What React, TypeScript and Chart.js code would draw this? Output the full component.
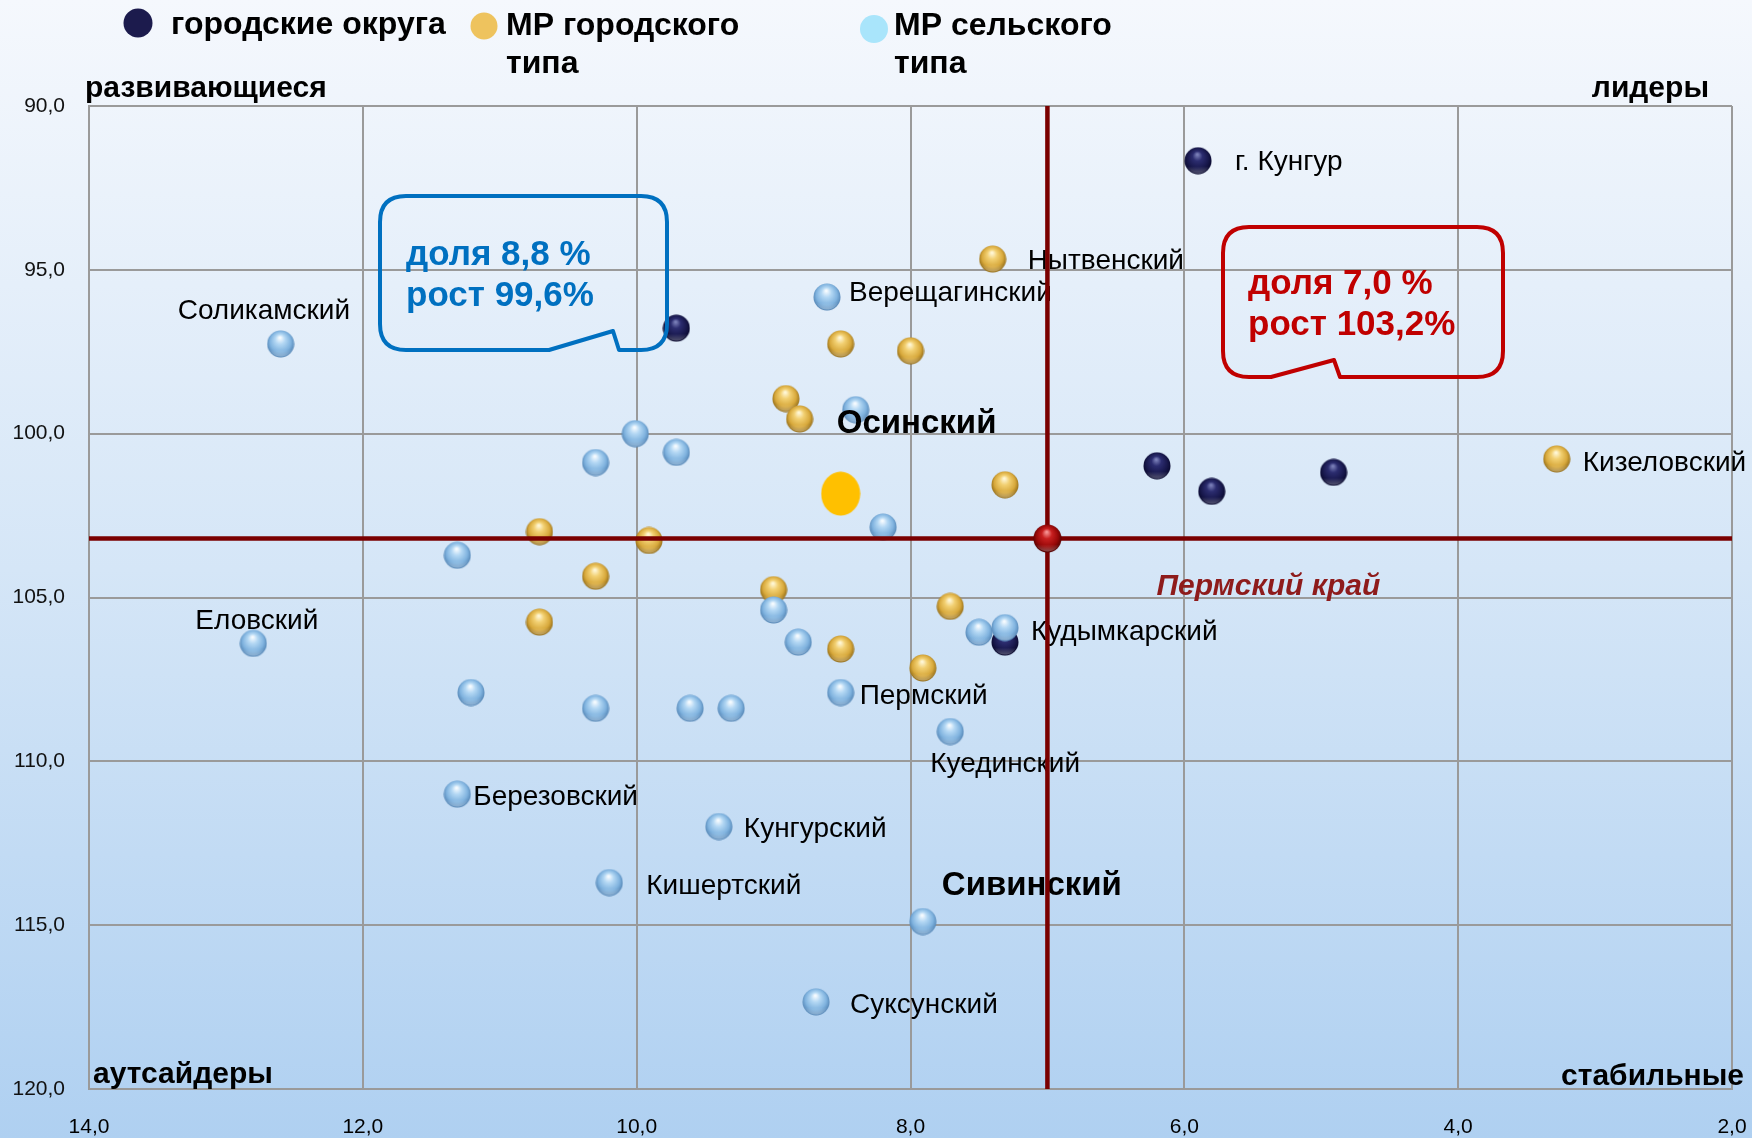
import React, { useEffect, useRef } from 'react';
import { Chart, registerables } from 'chart.js';

Chart.register(...registerables);

// ---------- DATA ----------
// городские округа
const urbanNames = ['г. Кунгур', '', '', '', '', ''];
const urbanShare = [5.9, 9.71, 6.2, 5.8, 4.91, 7.31];
const urbanGrowth = [91.67, 96.78, 100.98, 101.76, 101.18, 106.36];

// МР городского типа
const townNames = ['Нытвенский', '', '', '', '', '', 'Кизеловский', '', '', '', '', '', '', '', ''];
const townShare = [7.4, 8.51, 8.0, 8.91, 8.81, 7.31, 3.28, 10.71, 9.91, 10.3, 10.71, 9.0, 7.71, 8.51, 7.91];
const townGrowth = [94.67, 97.26, 97.47, 98.93, 99.55, 101.56, 100.77, 102.99, 103.26, 104.35, 105.75, 104.76, 105.27, 106.57, 107.15];

// МР сельского типа
const ruralNames = [
  'Верещагинский', 'Соликамский', 'Осинский', '', '', '', '', '', 'Еловский', '', '', '', 'Кудымкарский',
  '', '', '', '', 'Пермский', 'Куединский', 'Березовский', 'Кунгурский', 'Кишертский', 'Сивинский', 'Суксунский',
];
const ruralShare = [8.61, 12.6, 8.4, 10.01, 10.3, 9.71, 8.2, 11.31, 12.8, 9.0, 8.82, 7.5, 7.31, 11.21, 10.3, 9.61, 9.31, 8.51, 7.71, 11.31, 9.4, 10.2, 7.91, 8.69];
const ruralGrowth = [95.83, 97.26, 99.27, 100.0, 100.88, 100.57, 102.85, 103.71, 106.4, 105.38, 106.36, 106.06, 105.92, 107.9, 108.38, 108.38, 108.38, 107.9, 109.09, 111.0, 111.99, 113.7, 114.89, 117.34];

// выделенная точка
const highlightShare = [8.51];
const highlightGrowth = [101.83];

// Пермский край (средние значения)
const regionName = 'Пермский край';
const regionShare = 7.0;
const regionGrowth = 103.2;

const legendLabels = ['городские округа', 'МР городского типа', 'МР сельского типа'];
const quadrantLabels = ['развивающиеся', 'лидеры', 'аутсайдеры', 'стабильные'];
const calloutLeftText = ['доля 8,8 %', 'рост 99,6%'];
const calloutRightText = ['доля 7,0 %', 'рост 103,2%'];

const xMin = 2;
const xMax = 14;
const xStep = 2;
const yMin = 90;
const yMax = 120;
const yStep = 5;

// ---------- STYLE / LAYOUT ----------
const FONT = '"Liberation Sans", Arial, sans-serif';

const labelLayout: Record<string, { dx: number; dy: number; bold?: boolean; size?: number }> = {
  'г. Кунгур': { dx: 37, dy: 2 },
  'Нытвенский': { dx: 35, dy: 2 },
  'Кизеловский': { dx: 26, dy: 4 },
  'Верещагинский': { dx: 22, dy: -4 },
  'Соликамский': { dx: -103, dy: -33 },
  'Осинский': { dx: -19, dy: 14, bold: true, size: 33 },
  'Еловский': { dx: -58, dy: -22 },
  'Кудымкарский': { dx: 26, dy: 5 },
  'Пермский': { dx: 19, dy: 4 },
  'Куединский': { dx: -20, dy: 33 },
  'Березовский': { dx: 16, dy: 3 },
  'Кунгурский': { dx: 25, dy: 3 },
  'Кишертский': { dx: 37, dy: 4 },
  'Сивинский': { dx: 19, dy: -36, bold: true, size: 33 },
  'Суксунский': { dx: 34, dy: 3 },
};

function makeSphere(d: number, stops: string[]): HTMLCanvasElement {
  const c = document.createElement('canvas');
  c.width = d;
  c.height = d;
  const ctx = c.getContext('2d')!;
  const r = d / 2;
  const g = ctx.createRadialGradient(r * 0.95, r * 0.55, r * 0.05, r, r * 0.95, r * 1.05);
  g.addColorStop(0, stops[0]);
  g.addColorStop(0.3, stops[1]);
  g.addColorStop(0.7, stops[2]);
  g.addColorStop(1, stops[3]);
  ctx.fillStyle = g;
  ctx.beginPath();
  ctx.arc(r, r, r - 0.5, 0, Math.PI * 2);
  ctx.fill();
  const g2 = ctx.createLinearGradient(0, d * 0.7, 0, d);
  g2.addColorStop(0, 'rgba(255,255,255,0)');
  g2.addColorStop(1, 'rgba(255,255,255,0.35)');
  ctx.fillStyle = g2;
  ctx.beginPath();
  ctx.arc(r, r, r - 1.5, 0.15 * Math.PI, 0.85 * Math.PI);
  ctx.fill();
  return c;
}

function makeEllipse(w: number, h: number, color: string): HTMLCanvasElement {
  const c = document.createElement('canvas');
  c.width = w;
  c.height = h;
  const ctx = c.getContext('2d')!;
  ctx.fillStyle = color;
  ctx.beginPath();
  ctx.ellipse(w / 2, h / 2, w / 2 - 0.5, h / 2 - 0.5, 0, 0, Math.PI * 2);
  ctx.fill();
  return c;
}

function roundedCallout(
  ctx: CanvasRenderingContext2D,
  l: number, t: number, r: number, b: number, rad: number,
  notchLeft: number, notchTopX: number, notchTopY: number, notchRight: number,
) {
  ctx.beginPath();
  ctx.moveTo(l + rad, t);
  ctx.lineTo(r - rad, t);
  ctx.quadraticCurveTo(r, t, r, t + rad);
  ctx.lineTo(r, b - rad);
  ctx.quadraticCurveTo(r, b, r - rad, b);
  ctx.lineTo(notchRight, b);
  ctx.lineTo(notchTopX, notchTopY);
  ctx.lineTo(notchLeft, b);
  ctx.lineTo(l + rad, b);
  ctx.quadraticCurveTo(l, b, l, b - rad);
  ctx.lineTo(l, t + rad);
  ctx.quadraticCurveTo(l, t, l + rad, t);
  ctx.closePath();
}

const fmt = (v: number | string) => Number(v).toFixed(1).replace('.', ',');

export default function App() {
  const ref = useRef<HTMLCanvasElement>(null);

  useEffect(() => {
    const canvas = ref.current!;
    const blueSphere = makeSphere(28, ['#F6FBFF', '#B4D8F4', '#80B3DF', '#4F80B0']);
    const goldSphere = makeSphere(28, ['#FFF7D6', '#F2D072', '#D8A93C', '#8C6614']);
    const navySphere = makeSphere(28, ['#7A7FB8', '#2C2D70', '#18184C', '#07072A']);
    const redSphere = makeSphere(29, ['#F59090', '#C82020', '#980808', '#4A0000']);
    const yellowDot = makeEllipse(40, 45, '#FFC000');

    const toPts = (xs: number[], ys: number[]) => xs.map((x, i) => ({ x, y: ys[i] }));

    const bgPlugin = {
      id: 'bg',
      beforeDraw(chart: any) {
        const { ctx, width, height } = chart;
        const g = ctx.createLinearGradient(0, 0, 0, height);
        g.addColorStop(0, '#F5F8FD');
        g.addColorStop(0.5, '#D5E6F7');
        g.addColorStop(1, '#AFD0F1');
        ctx.save();
        ctx.fillStyle = g;
        ctx.fillRect(0, 0, width, height);
        ctx.restore();
      },
    };

    const drawLabels = (chart: any) => {
      const { ctx, scales } = chart;
      const xs = scales.x;
      const ys = scales.y;
      ctx.save();
      ctx.textBaseline = 'middle';
      ctx.textAlign = 'left';
      ctx.fillStyle = '#000';
      const groups: [string[], number[], number[]][] = [
        [urbanNames, urbanShare, urbanGrowth],
        [townNames, townShare, townGrowth],
        [ruralNames, ruralShare, ruralGrowth],
      ];
      groups.forEach(([names, sx, gy]) => {
        names.forEach((n, i) => {
          if (!n) return;
          const lay = labelLayout[n] || { dx: 20, dy: 0 };
          const px = xs.getPixelForValue(sx[i]);
          const py = ys.getPixelForValue(gy[i]);
          ctx.font = `${lay.bold ? 'bold ' : ''}${lay.size || 28}px ${FONT}`;
          ctx.fillText(n, px + lay.dx, py + lay.dy);
        });
      });
      ctx.font = `italic bold 30px ${FONT}`;
      ctx.fillStyle = '#8E1B1B';
      ctx.fillText(regionName, xs.getPixelForValue(regionShare) + 109, ys.getPixelForValue(regionGrowth) + 48);
      ctx.restore();
    };

    const labelsPlugin = {
      id: 'labels',
      beforeDatasetDraw(chart: any, args: any) {
        if (args.index === 2) drawLabels(chart);
      },
    };

    const overlayPlugin = {
      id: 'overlay',
      afterDraw(chart: any) {
        const { ctx } = chart;
        ctx.save();
        ctx.textBaseline = 'middle';
        ctx.textAlign = 'left';
        ctx.fillStyle = '#1C1B4D';
        ctx.beginPath(); ctx.arc(138, 23, 14.5, 0, Math.PI * 2); ctx.fill();
        ctx.fillStyle = '#EEC35E';
        ctx.beginPath(); ctx.arc(484, 26, 13.5, 0, Math.PI * 2); ctx.fill();
        ctx.fillStyle = '#A9E5FB';
        ctx.beginPath(); ctx.arc(874, 29, 14, 0, Math.PI * 2); ctx.fill();
        ctx.fillStyle = '#000';
        ctx.font = `bold 32px ${FONT}`;
        ctx.fillText(legendLabels[0], 171, 25);
        const t1 = legendLabels[1].split(' ');
        ctx.fillText(t1.slice(0, 2).join(' '), 506, 26);
        ctx.fillText(t1.slice(2).join(' '), 506, 64);
        const t2 = legendLabels[2].split(' ');
        ctx.fillText(t2.slice(0, 2).join(' '), 894, 26);
        ctx.fillText(t2.slice(2).join(' '), 894, 64);

        ctx.font = `bold 30px ${FONT}`;
        ctx.fillText(quadrantLabels[0], 85, 89);
        ctx.fillText(quadrantLabels[2], 93, 1075);
        ctx.textAlign = 'right';
        ctx.fillText(quadrantLabels[1], 1709, 89);
        ctx.fillText(quadrantLabels[3], 1744, 1077);

        ctx.lineWidth = 4;
        ctx.lineJoin = 'round';
        ctx.strokeStyle = '#0070C0';
        roundedCallout(ctx, 380, 196, 667, 350, 26, 549, 613, 331, 619);
        ctx.stroke();
        ctx.strokeStyle = '#C00000';
        roundedCallout(ctx, 1223, 227, 1503, 377, 26, 1271, 1334, 360, 1340);
        ctx.stroke();

        ctx.textAlign = 'left';
        ctx.font = `bold 35px ${FONT}`;
        ctx.fillStyle = '#0070C0';
        ctx.fillText(calloutLeftText[0], 406, 255);
        ctx.fillText(calloutLeftText[1], 406, 296);
        ctx.fillStyle = '#C00000';
        ctx.fillText(calloutRightText[0], 1248, 284);
        ctx.fillText(calloutRightText[1], 1248, 325);
        ctx.restore();
      },
    };

    const chart = new Chart(canvas, {
      type: 'scatter',
      data: {
        datasets: [
          {
            label: regionName,
            data: [{ x: regionShare, y: regionGrowth }],
            pointStyle: redSphere as any,
            order: 0,
          },
          {
            label: 'h',
            type: 'line' as any,
            data: [{ x: xMax, y: regionGrowth }, { x: xMin, y: regionGrowth }],
            borderColor: '#7A0000',
            borderWidth: 4.5,
            pointRadius: 0,
            order: 1,
          } as any,
          {
            label: 'v',
            type: 'line' as any,
            data: [{ x: regionShare, y: yMin }, { x: regionShare, y: yMax }],
            borderColor: '#7A0000',
            borderWidth: 4.5,
            pointRadius: 0,
            order: 2,
          } as any,
          {
            label: 'highlight',
            data: toPts(highlightShare, highlightGrowth),
            pointStyle: yellowDot as any,
            order: 3,
          },
          {
            label: legendLabels[2],
            data: toPts(ruralShare, ruralGrowth),
            pointStyle: blueSphere as any,
            order: 4,
          },
          {
            label: legendLabels[1],
            data: toPts(townShare, townGrowth),
            pointStyle: goldSphere as any,
            order: 5,
          },
          {
            label: legendLabels[0],
            data: toPts(urbanShare, urbanGrowth),
            pointStyle: navySphere as any,
            order: 6,
          },
        ],
      },
      options: {
        responsive: false,
        animation: false,
        layout: { padding: { top: 106, right: 20, left: 0, bottom: 0 } },
        plugins: { legend: { display: false }, tooltip: { enabled: false } },
        scales: {
          x: {
            type: 'linear',
            min: xMin,
            max: xMax,
            reverse: true,
            ticks: {
              stepSize: xStep,
              callback: (v: any) => fmt(v),
              font: { family: FONT, size: 21 },
              color: '#000',
              padding: 26,
              maxRotation: 0,
            },
            grid: { color: '#9A9A9A', lineWidth: 2, drawTicks: false },
            border: { color: '#9A9A9A', width: 2 },
            afterFit: (s: any) => {
              s.height = 49;
              s.paddingLeft = 0;
              s.paddingRight = 0;
            },
          },
          y: {
            type: 'linear',
            min: yMin,
            max: yMax,
            reverse: true,
            ticks: {
              stepSize: yStep,
              callback: (v: any) => fmt(v),
              font: { family: FONT, size: 21 },
              color: '#111',
              padding: 24,
            },
            grid: { color: '#9A9A9A', lineWidth: 2, drawTicks: false },
            border: { color: '#9A9A9A', width: 2 },
            afterFit: (s: any) => {
              s.width = 89;
              s.paddingTop = 0;
              s.paddingBottom = 0;
            },
          },
        },
      } as any,
      plugins: [bgPlugin, labelsPlugin, overlayPlugin],
    });

    return () => chart.destroy();
  }, []);

  return (
    <div style={{ position: 'fixed', left: 0, top: 0, width: 1752, height: 1138 }}>
      <canvas ref={ref} width={1752} height={1138} style={{ display: 'block', width: 1752, height: 1138 }} />
    </div>
  );
}
